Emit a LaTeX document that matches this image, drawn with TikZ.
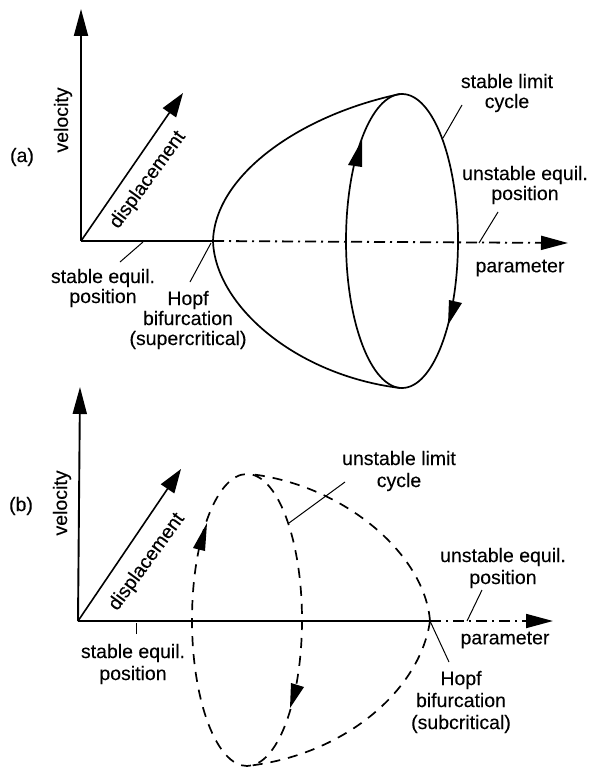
\documentclass[tikz,border=0pt]{standalone}
\usepackage{fontspec}
\setmainfont[FakeBold=0.12]{Liberation Sans}
\usetikzlibrary{arrows.meta}
\tikzset{
  axisline/.style={line width=1.9pt,-{Triangle[length=27pt,width=14pt]}},
  curveline/.style={line width=1.7pt,black},
  dashcurve/.style={line width=1.7pt,black,dash pattern=on 10pt off 8pt},
  equildash/.style={line width=1.8pt,dash pattern=on 11pt off 5pt on 2pt off 5pt,-{Triangle[length=27pt,width=14pt]}},
  leader/.style={line width=1pt},
  lblb/.style={font=\fontsize{19.5}{22}\selectfont,align=center,inner sep=0pt},
  lbla/.style={font=\fontsize{19.5}{20}\selectfont,align=center,inner sep=0pt},
  headtip/.style={fill=black,draw=none}
}
\begin{document}
\begin{tikzpicture}[x=1pt,y=-1pt]
\useasboundingbox (0,0) rectangle (593,768);
% ---------- (a)
\coordinate (ao) at (81,241);
\coordinate (av) at (81,9);
\coordinate (ad) at (183,93);
\coordinate (ah) at (213,241);
\coordinate (ap) at (568,243);
\coordinate (at) at (400,94);
\coordinate (ab) at (400,388);
\draw[equildash] (ah) -- (ap);
\draw[line width=2pt] (ao) -- (ah);
\draw[axisline] (ao) -- (av);
\draw[line width=1.6pt,-{Triangle[length=24pt,width=16pt]}] (ao) -- (ad);
\draw[curveline] (402,241) ellipse [x radius=56,y radius=147];
\draw[curveline] (ah) .. controls (215,175) and (300,115) .. (at);
\draw[curveline] (ah) .. controls (215,305) and (295,375) .. (ab);
\fill[headtip] (362,140) -- (348,165) -- (362,167) -- cycle;
\fill[headtip] (448,325) -- (449,300) -- (462,303) -- cycle;
\node[lbla] (la) at (22,157) {(a)};
\node[lbla,rotate=90] (vela) at (63,120) {velocity};
\node[lbla,rotate=54] (disa) at (148,180) {displacement};
\node[lbla] (sea) at (103,288) {stable equil.\\position};
\node[lbla] (hopa) at (188,320) {Hopf\\bifurcation\\(supercritical)};
\node[lbla] (slc) at (507,93) {stable limit\\cycle};
\node[lbla] (uea) at (525,185) {unstable equil.\\position};
\node[lbla] (para) at (520,268) {parameter};
\coordinate (a1) at (143,242); \coordinate (a1e) at (120,262);
\coordinate (a2) at (211,243); \coordinate (a2e) at (190,282);
\coordinate (a3) at (443,138); \coordinate (a3e) at (462,105);
\coordinate (a4) at (479,243); \coordinate (a4e) at (498,212);
\draw[leader] (a1e) -- (a1);
\draw[leader] (a2e) -- (a2);
\draw[leader] (a3e) -- (a3);
\draw[leader] (a4e) -- (a4);
% ---------- (b)
\coordinate (bo) at (78,621);
\coordinate (bv) at (80,387);
\coordinate (bd) at (181,469);
\coordinate (bh) at (430,621);
\coordinate (bp) at (553,621);
\coordinate (bt) at (250,474);
\coordinate (bb) at (247,766);
\draw[equildash] (bh) -- (bp);
\draw[line width=2pt] (bo) -- (bh);
\draw[axisline] (bo) -- (bv);
\draw[line width=1.6pt,-{Triangle[length=24pt,width=16pt]}] (bo) -- (bd);
\draw[dashcurve] (247,620) ellipse [x radius=55,y radius=146];
\draw[dashcurve] (bh) .. controls (425,555) and (345,485) .. (bt);
\draw[dashcurve] (bh) .. controls (420,690) and (345,755) .. (bb);
\fill[headtip] (207,523) -- (193,548) -- (205,551) -- cycle;
\fill[headtip] (290,708) -- (291,683) -- (304,687) -- cycle;
\node[lblb] (lb) at (21,506) {(b)};
\node[lblb,rotate=90] (velb) at (62,503) {velocity};
\node[lblb,rotate=54] (disb) at (147,562) {displacement};
\node[lblb] (seb) at (133,664) {stable equil.\\position};
\node[lblb] (ulc) at (399,471) {unstable limit\\cycle};
\node[lblb] (ueb) at (503,568) {unstable equil.\\position};
\node[lblb] (parb) at (505,640) {parameter};
\node[lblb] (hopb) at (461,702) {Hopf\\bifurcation\\(subcritical)};
\coordinate (b1) at (136,623); \coordinate (b1e) at (136,634);
\coordinate (b2) at (430,621); \coordinate (b2e) at (449,662);
\coordinate (b3) at (289,523); \coordinate (b3e) at (345,482);
\coordinate (b4) at (467,621); \coordinate (b4e) at (482,590);
\draw[leader] (b1e) -- (b1);
\draw[leader] (b2e) -- (b2);
\draw[leader] (b3e) -- (b3);
\draw[leader] (b4e) -- (b4);
\end{tikzpicture}
\end{document}
